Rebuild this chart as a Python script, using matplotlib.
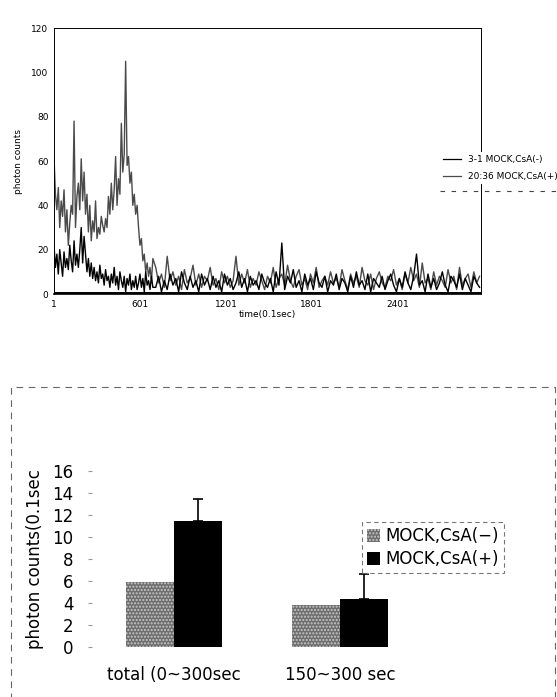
import numpy as np
import matplotlib
matplotlib.use("Agg")
import matplotlib.pyplot as plt
from matplotlib.lines import Line2D
from matplotlib.patches import Rectangle

# time trace (0.1 sec units)
# first 700 units sampled every 10, the rest every 20
plus_early = [62, 45, 38, 48, 30, 42, 35, 47, 28, 38,
              22, 32, 40, 36, 78, 30, 44, 50, 38, 61,
              42, 55, 36, 45, 28, 40, 24, 33, 28, 42,
              25, 30, 27, 35, 31, 28, 34, 30, 44, 36,
              50, 38, 47, 62, 40, 52, 45, 77, 55, 63,
              105, 58, 62, 50, 55, 40, 45, 36, 40, 30,
              22, 25, 15, 18, 10, 14, 8, 12, 6, 16]
minus_early = [22, 12, 18, 9, 20, 14, 8, 19, 12, 16,
               11, 22, 15, 10, 24, 13, 18, 12, 20, 30,
               14, 26, 18, 10, 16, 8, 14, 7, 12, 6,
               10, 5, 13, 7, 9, 4, 11, 6, 8, 3,
               9, 5, 12, 4, 8, 2, 10, 6, 3, 8,
               1, 7, 4, 9, 2, 6, 3, 8, 2, 5,
               9, 3, 7, 1, 10, 4, 6, 2, 8, 3]
plus_late = [12, 5, 9, 3, 17, 6, 10, 4, 8, 2,
             11, 5, 7, 13, 4, 9, 3, 8, 6, 12,
             4, 7, 2, 10, 5, 8, 3, 6, 17, 4,
             9, 5, 11, 3, 7, 4, 10, 6, 2, 8,
             5, 12, 3, 7, 9, 4, 13, 6, 3, 8,
             11, 4, 7, 2, 9, 5, 12, 3, 6, 8,
             4, 10, 5, 7, 3, 11, 6, 2, 9, 5,
             8, 3, 12, 6, 4, 9, 2, 7, 10, 5,
             3, 8, 6, 11, 4, 7, 2, 9, 5, 12,
             6, 9, 3, 14, 5, 7, 2, 10, 4, 8,
             6, 3, 11, 5, 8, 2, 12, 4, 7, 9,
             3, 10, 5, 8]
minus_late = [3, 8, 1, 6, 2, 9, 4, 7, 1, 10,
              5, 2, 8, 3, 6, 1, 9, 4, 7, 2,
              8, 3, 6, 1, 9, 4, 7, 2, 5, 10,
              3, 7, 1, 8, 4, 6, 2, 9, 5, 3,
              7, 1, 10, 4, 23, 2, 8, 5, 11, 3,
              6, 1, 9, 4, 7, 2, 10, 5, 3, 8,
              1, 6, 4, 9, 2, 7, 5, 1, 8, 3,
              10, 4, 6, 2, 9, 1, 7, 5, 3, 8,
              2, 6, 9, 4, 1, 7, 3, 10, 5, 2,
              8, 18, 4, 6, 1, 9, 3, 7, 2, 5,
              10, 4, 1, 8, 6, 3, 9, 2, 7, 4,
              1, 8, 5, 3]
time_ticks = [1, 601, 1201, 1801, 2401]
trace_labels = ['3-1 MOCK,CsA(-)', '20:36 MOCK,CsA(+)']

# bar summary
groups = ['total (0~300sec', '150~300 sec']
mean_minus = [5.9, 3.8]
mean_plus = [11.5, 4.4]
err_plus = [2.0, 2.2]
bar_labels = ['MOCK,CsA(\u2212)', 'MOCK,CsA(+)']

t_early = 1 + 10 * np.arange(len(plus_early))
t_late = t_early[-1] + 20 + 20 * np.arange(len(plus_late))
t = np.concatenate([t_early, t_late])
y_plus = np.concatenate([plus_early, plus_late])
y_minus = np.concatenate([minus_early, minus_late])

fig = plt.figure(figsize=(5.57, 6.97), dpi=100)

# ---- top: time trace ----
ax1 = fig.add_axes([54 / 557, 1 - 294 / 697, 427 / 557, 266 / 697])
ax1.plot(t, y_plus, color='#4a4a4a', lw=1.0)
ax1.plot(t, y_minus, color='black', lw=1.0)
ax1.axhline(0.6, color='black', lw=1.4)
ax1.set_xlim(1, 2981)
ax1.set_ylim(0, 120)
ax1.set_xticks(time_ticks)
ax1.set_yticks(range(0, 121, 20))
ax1.tick_params(length=0, labelsize=6.5, pad=4)
ax1.set_xlabel('time(0.1sec)', fontsize=6.5, labelpad=1)
ax1.set_ylabel('photon counts', fontsize=6.5, labelpad=6)
for s in ax1.spines.values():
    s.set_linestyle((0, (2, 1)))
    s.set_linewidth(0.7)
ax1.spines['bottom'].set_linestyle('-')
ax1.spines['bottom'].set_linewidth(1.2)

h = [Line2D([], [], color='black', lw=0.9), Line2D([], [], color='#4a4a4a', lw=0.9)]
leg1 = fig.legend(h, trace_labels, loc='upper left', bbox_to_anchor=(440 / 557, 1 - 152 / 697),
                  fontsize=6.5, frameon=True, handlelength=2.0, handletextpad=0.8,
                  borderaxespad=0, borderpad=0.3, labelspacing=0.9)
leg1.get_frame().set_facecolor('white')
leg1.get_frame().set_edgecolor('none')
leg1.get_frame().set_alpha(1)
fig.add_artist(Line2D([440 / 557, 557 / 557], [1 - 191 / 697] * 2, color='#444444',
                      lw=0.8, ls=(0, (4, 6))))

# ---- bottom: bar summary ----
ax2 = fig.add_axes([91.6 / 557, 50 / 697, 331 / 557, 176 / 697])
x = np.arange(len(groups))
w = 0.29
ax2.bar(x - w / 2, mean_minus, w, color='#6e6e6e', edgecolor='#c8c8c8', lw=0,
        hatch='.....', label=bar_labels[0])
ax2.bar(x + w / 2, mean_plus, w, color='black', label=bar_labels[1],
        yerr=[[0, 0], err_plus], error_kw=dict(ecolor='black', elinewidth=1.2,
                                               capsize=3.5, capthick=1.2))
ax2.set_xlim(-0.5, 1.5)
ax2.set_ylim(0, 16)
ax2.set_yticks(range(0, 17, 2))
ax2.set_xticks(x)
ax2.set_xticklabels(groups)
for s in ax2.spines.values():
    s.set_visible(False)
ax2.tick_params(axis='y', labelsize=12, length=3, color='#999999', pad=10)
ax2.tick_params(axis='x', labelsize=12, length=0, pad=14)
ax2.set_ylabel('photon counts(0.1sec', fontsize=12, labelpad=6)

leg2 = ax2.legend(loc='upper left', bbox_to_anchor=((362 - 91.6) / 331, (647 - 522) / 176),
                  fontsize=12, frameon=True, borderaxespad=0, handlelength=0.8,
                  handleheight=0.8, handletextpad=0.3, borderpad=0.3, labelspacing=0.3)
leg2.get_frame().set_edgecolor('#555555')
leg2.get_frame().set_linestyle((0, (4, 3)))
leg2.get_frame().set_linewidth(0.8)
leg2.get_frame().set_boxstyle('square', pad=0)

# scanned frame around the bottom panel
fig.add_artist(Rectangle((11 / 557, -0.01), 544 / 557, 1 - 387 / 697 + 0.01,
                         transform=fig.transFigure, fill=False, edgecolor='#666666',
                         lw=0.8, ls=(0, (6, 5))))

fig.savefig('out.png', dpi=100)
